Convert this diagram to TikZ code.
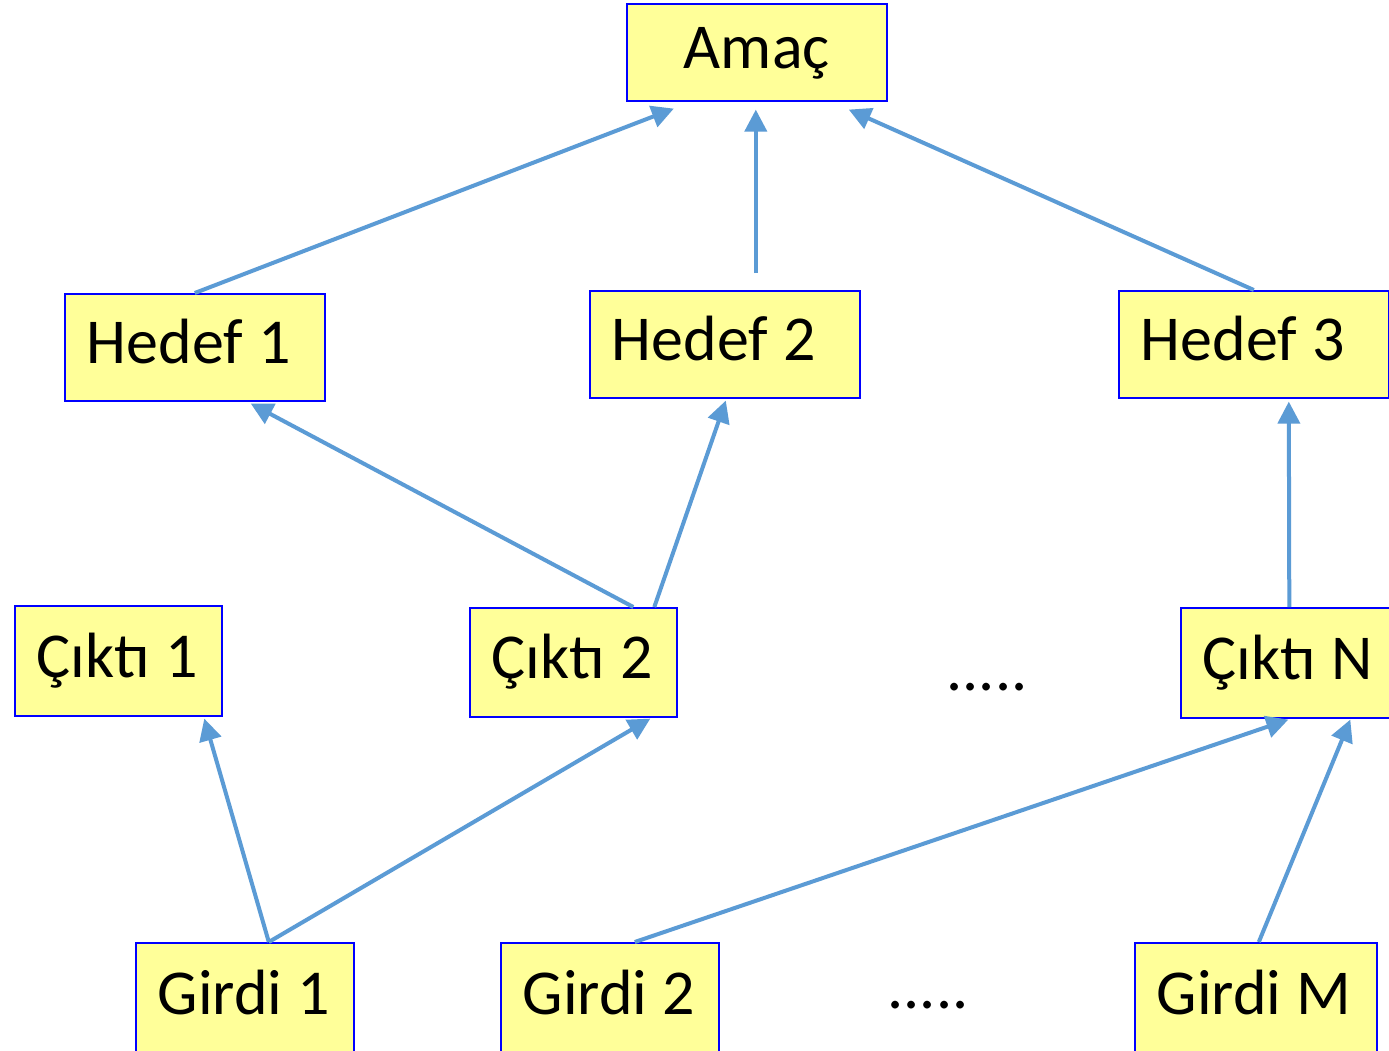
\documentclass[tikz,border=0pt]{standalone}
\usepackage{fontspec}
\setmainfont{Carlito}
\usetikzlibrary{arrows.meta}
\definecolor{boxY}{RGB}{255,255,153}
\definecolor{arrowB}{RGB}{91,155,213}

\begin{document}
\begin{tikzpicture}
  [x=1pt,y=-1pt,
   boxN/.style={draw=blue,fill=boxY,line width=1.6pt,anchor=north west,
     inner xsep=22pt,inner ysep=0pt,align=left,font=\fontsize{64}{70}\selectfont,
     execute at begin node={\spaceskip=0.24em\relax},
     text height=41pt,text depth=8pt},
   edgeA/.style={draw=arrowB,line width=4pt,-{Triangle[length=22pt,width=22pt]}},
   dotsN/.style={anchor=base,inner sep=0pt,font=\fontsize{64}{70}\selectfont}]

  \useasboundingbox[fill=white] (0,0) rectangle (1389,1050);

  \node[boxN,text width=216pt,minimum height=97pt,align=center] (amac) at (626,3) {Amaç};

  \node[boxN,text width=216pt,minimum height=107pt] (hedef1) at (64,293)   {\mbox{Hedef 1}};
  \node[boxN,text width=226pt,minimum height=107pt] (hedef2) at (589,290)  {\mbox{Hedef 2}};
  \node[boxN,text width=226pt,minimum height=107pt] (hedef3) at (1118,290) {\mbox{Hedef 3}};

  \node[boxN,text width=163pt,minimum height=110pt] (cikti1) at (14,605)   {\mbox{Çıktı 1}};
  \node[boxN,text width=163pt,minimum height=109pt] (cikti2) at (469,607)  {\mbox{Çıktı 2}};
  \node[boxN,text width=171pt,minimum height=110pt] (ciktiN) at (1180,607) {\mbox{Çıktı N}};
  \node[dotsN] (dotsC) at (987,690) {.....};

  \node[boxN,text width=174pt,minimum height=110pt] (girdi1) at (135,942)  {\mbox{Girdi 1}};
  \node[boxN,text width=174pt,minimum height=110pt] (girdi2) at (500,942)  {\mbox{Girdi 2}};
  \node[boxN,text width=198pt,minimum height=110pt] (girdiM) at (1134,942) {\mbox{Girdi M}};
  \node[dotsN] (dotsG) at (928,1008) {.....};

  \draw[edgeA] (hedef1.north) -- ([xshift=-83pt,yshift=-7pt]amac.south);
  \draw[edgeA] ([xshift=31pt,yshift=17pt]hedef2.north) -- ([xshift=-1pt,yshift=-8pt]amac.south);
  \draw[edgeA] (hedef3.north) -- ([xshift=92pt,yshift=-8pt]amac.south);

  \draw[edgeA] ([xshift=60pt]cikti2.north) -- ([xshift=56pt,yshift=-2pt]hedef1.south);
  \draw[edgeA] ([xshift=81pt]cikti2.north) -- ([xshift=1pt,yshift=-2pt]hedef2.south);
  \draw[edgeA] ([xshift=1pt]ciktiN.north) -- ([xshift=35pt,yshift=-3pt]hedef3.south);

  \draw[edgeA] ([xshift=24pt]girdi1.north) -- ([xshift=86pt,yshift=-2pt]cikti1.south);
  \draw[edgeA] ([xshift=24pt]girdi1.north) -- ([xshift=77pt,yshift=-1pt]cikti2.south);
  \draw[edgeA] ([xshift=25pt]girdi2.north) -- ([yshift=-1pt]ciktiN.south);
  \draw[edgeA] ([xshift=3pt]girdiM.north) -- ([xshift=62pt,yshift=-1pt]ciktiN.south);
\end{tikzpicture}
\end{document}
